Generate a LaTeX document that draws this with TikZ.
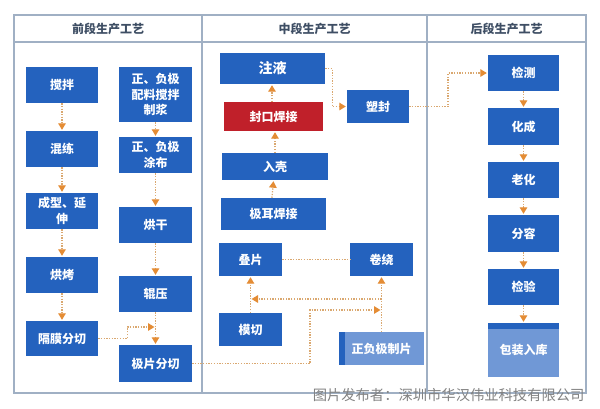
\documentclass[tikz,border=0pt]{standalone}
\usepackage{fontspec}
\newfontfamily\cjk{Noto Sans CJK SC}
\usetikzlibrary{arrows.meta}
\definecolor{boxblue}{RGB}{36,98,190}
\definecolor{boxlight}{RGB}{112,152,214}
\definecolor{boxred}{RGB}{192,32,42}
\definecolor{framec}{RGB}{160,176,196}
\definecolor{headc}{RGB}{62,78,100}
\definecolor{arrline}{RGB}{218,168,112}
\definecolor{arrhead}{RGB}{228,140,52}
\definecolor{wmark}{RGB}{130,130,130}
\begin{document}
\begin{tikzpicture}[x=1pt,y=-1pt,
  box/.style={fill=boxblue, text=white, font=\cjk\bfseries\fontsize{12}{15.5}\selectfont, align=center, inner sep=0pt},
  redbox/.style={box, fill=boxred},
  lightbox/.style={box, fill=boxlight},
  head/.style={text=headc, font=\cjk\bfseries\fontsize{12}{14}\selectfont},
  frame/.style={draw=framec, line width=1.2pt},
  link/.style={draw=arrline, line width=1.3pt, dash pattern=on 1.3pt off 1.4pt},
  arr/.style={link, -{Triangle[width=7.5pt,length=6.5pt,color=arrhead]}, shorten >=1pt},
  wm/.style={text=wmark, font=\cjk\fontsize{14.3}{16}\selectfont}
]
\useasboundingbox (0,0) rectangle (600,408);
\fill[white] (0,0) rectangle (600,408);

% frame
\draw[frame] (14,15) rectangle (586,393);
\draw[frame] (14,42) -- (586,42);
\draw[frame] (202,15) -- (202,393);
\draw[frame] (427,15) -- (427,393);
\node[head] (h1) at (108,28.5) {前段生产工艺};
\node[head] (h2) at (314.5,28.5) {中段生产工艺};
\node[head] (h3) at (506.5,28.5) {后段生产工艺};

% left column 1
\node[box, minimum width=72pt, minimum height=36pt] (a1) at (62,85) {搅拌};
\node[box, minimum width=72pt, minimum height=36pt] (a2) at (62,149) {混练};
\node[box, minimum width=72pt, minimum height=36pt] (a3) at (62,211) {成型、延\\伸};
\node[box, minimum width=72pt, minimum height=36pt] (a4) at (62,275) {烘烤};
\node[box, minimum width=72pt, minimum height=35pt] (a5) at (62,338.5) {隔膜分切};
% left column 2
\node[box, minimum width=73pt, minimum height=55pt] (b1) at (155.5,94.5) {正、负极\\配料搅拌\\制浆};
\node[box, minimum width=73pt, minimum height=36pt] (b2) at (155.5,155) {正、负极\\涂布};
\node[box, minimum width=73pt, minimum height=36pt] (b3) at (155.5,225) {烘干};
\node[box, minimum width=73pt, minimum height=36pt] (b4) at (155.5,294) {辊压};
\node[box, minimum width=73pt, minimum height=37pt] (b5) at (155.5,363.5) {极片分切};

% middle
\node[box, minimum width=105pt, minimum height=31pt, font=\cjk\bfseries\fontsize{14}{16}\selectfont] (c1) at (272.5,68.5) {注液};
\node[redbox, minimum width=99pt, minimum height=29pt] (c2) at (273.5,116.5) {封口焊接};
\node[box, minimum width=106pt, minimum height=27pt] (c3) at (275,166.5) {入壳};
\node[box, minimum width=105pt, minimum height=32pt] (c4) at (273.5,214) {极耳焊接};
\node[box, minimum width=62pt, minimum height=33pt] (c5) at (378,106.5) {塑封};
\node[box, minimum width=63pt, minimum height=33pt] (c6) at (250.5,259.5) {叠片};
\node[box, minimum width=63pt, minimum height=33pt] (c7) at (381.5,259.5) {卷绕};
\node[box, minimum width=63pt, minimum height=33pt] (c8) at (250.5,329.5) {模切};
\node[lightbox, minimum width=85pt, minimum height=33pt] (c9) at (381.5,348.5) {正负极制片};
\fill[boxblue] (c9.north west) rectangle ++(6,33);

% right
\node[box, minimum width=71pt, minimum height=36pt] (d1) at (523.5,73) {检测};
\node[box, minimum width=71pt, minimum height=37pt] (d2) at (523.5,126.5) {化成};
\node[box, minimum width=71pt, minimum height=36pt] (d3) at (523.5,180) {老化};
\node[box, minimum width=71pt, minimum height=37pt] (d4) at (523.5,233.5) {分容};
\node[box, minimum width=71pt, minimum height=36pt] (d5) at (523.5,287) {检验};
\node[lightbox, minimum width=71pt, minimum height=54pt] (d6) at (523.5,350) {包装入库};
\fill[boxblue] (d6.north west) rectangle ++(71,6);

% coordinates
\coordinate (m1) at (155.5,327);
\coordinate (m2) at (381.5,310);
\coordinate (m3) at (381.5,299);
\coordinate (m4) at (250.5,299);

% connectors left
\draw[arr] (a1) -- (a2);
\draw[arr] (a2) -- (a3);
\draw[arr] (a3) -- (a4);
\draw[arr] (a4) -- (a5);
\draw[arr] (b1) -- (b2);
\draw[arr] (b2) -- (b3);
\draw[arr] (b3) -- (b4);
\draw[arr] (b4) -- (b5);
\draw[arr] (a5.east) -- ++(29,0) |- (m1);
\draw[arr] (b5.east) -- (310,363.5) |- (m2);

% connectors middle
\draw[arr] (c9.north) -- (c7.south);
\draw[arr] (m3) -- (m4);
\draw[arr] (c8.north) -- (c6.south);
\draw[link] (c6.east) -- (c7.west);
\draw[arr] ([xshift=-1.5pt]c4.north) -- ([xshift=-1.5pt]c3.south);
\draw[arr] (c3.north) -- ([xshift=1.5pt]c2.south);
\draw[arr] ([xshift=-1.5pt]c2.north) -- ([xshift=-0.5pt]c1.south);
\draw[arr] (c1.east) -- ++(7,0) |- (c5.west);
\draw[arr] (c5.east) -- (448,106.5) |- (d1.west);

% connectors right
\draw[arr] (d1) -- (d2);
\draw[arr] (d2) -- (d3);
\draw[arr] (d3) -- (d4);
\draw[arr] (d4) -- (d5);
\draw[arr] (d5) -- (d6);

% watermark
\node[wm, anchor=east] (w) at (588,395) {图片发布者：深圳市华汉伟业科技有限公司};
\end{tikzpicture}
\end{document}
